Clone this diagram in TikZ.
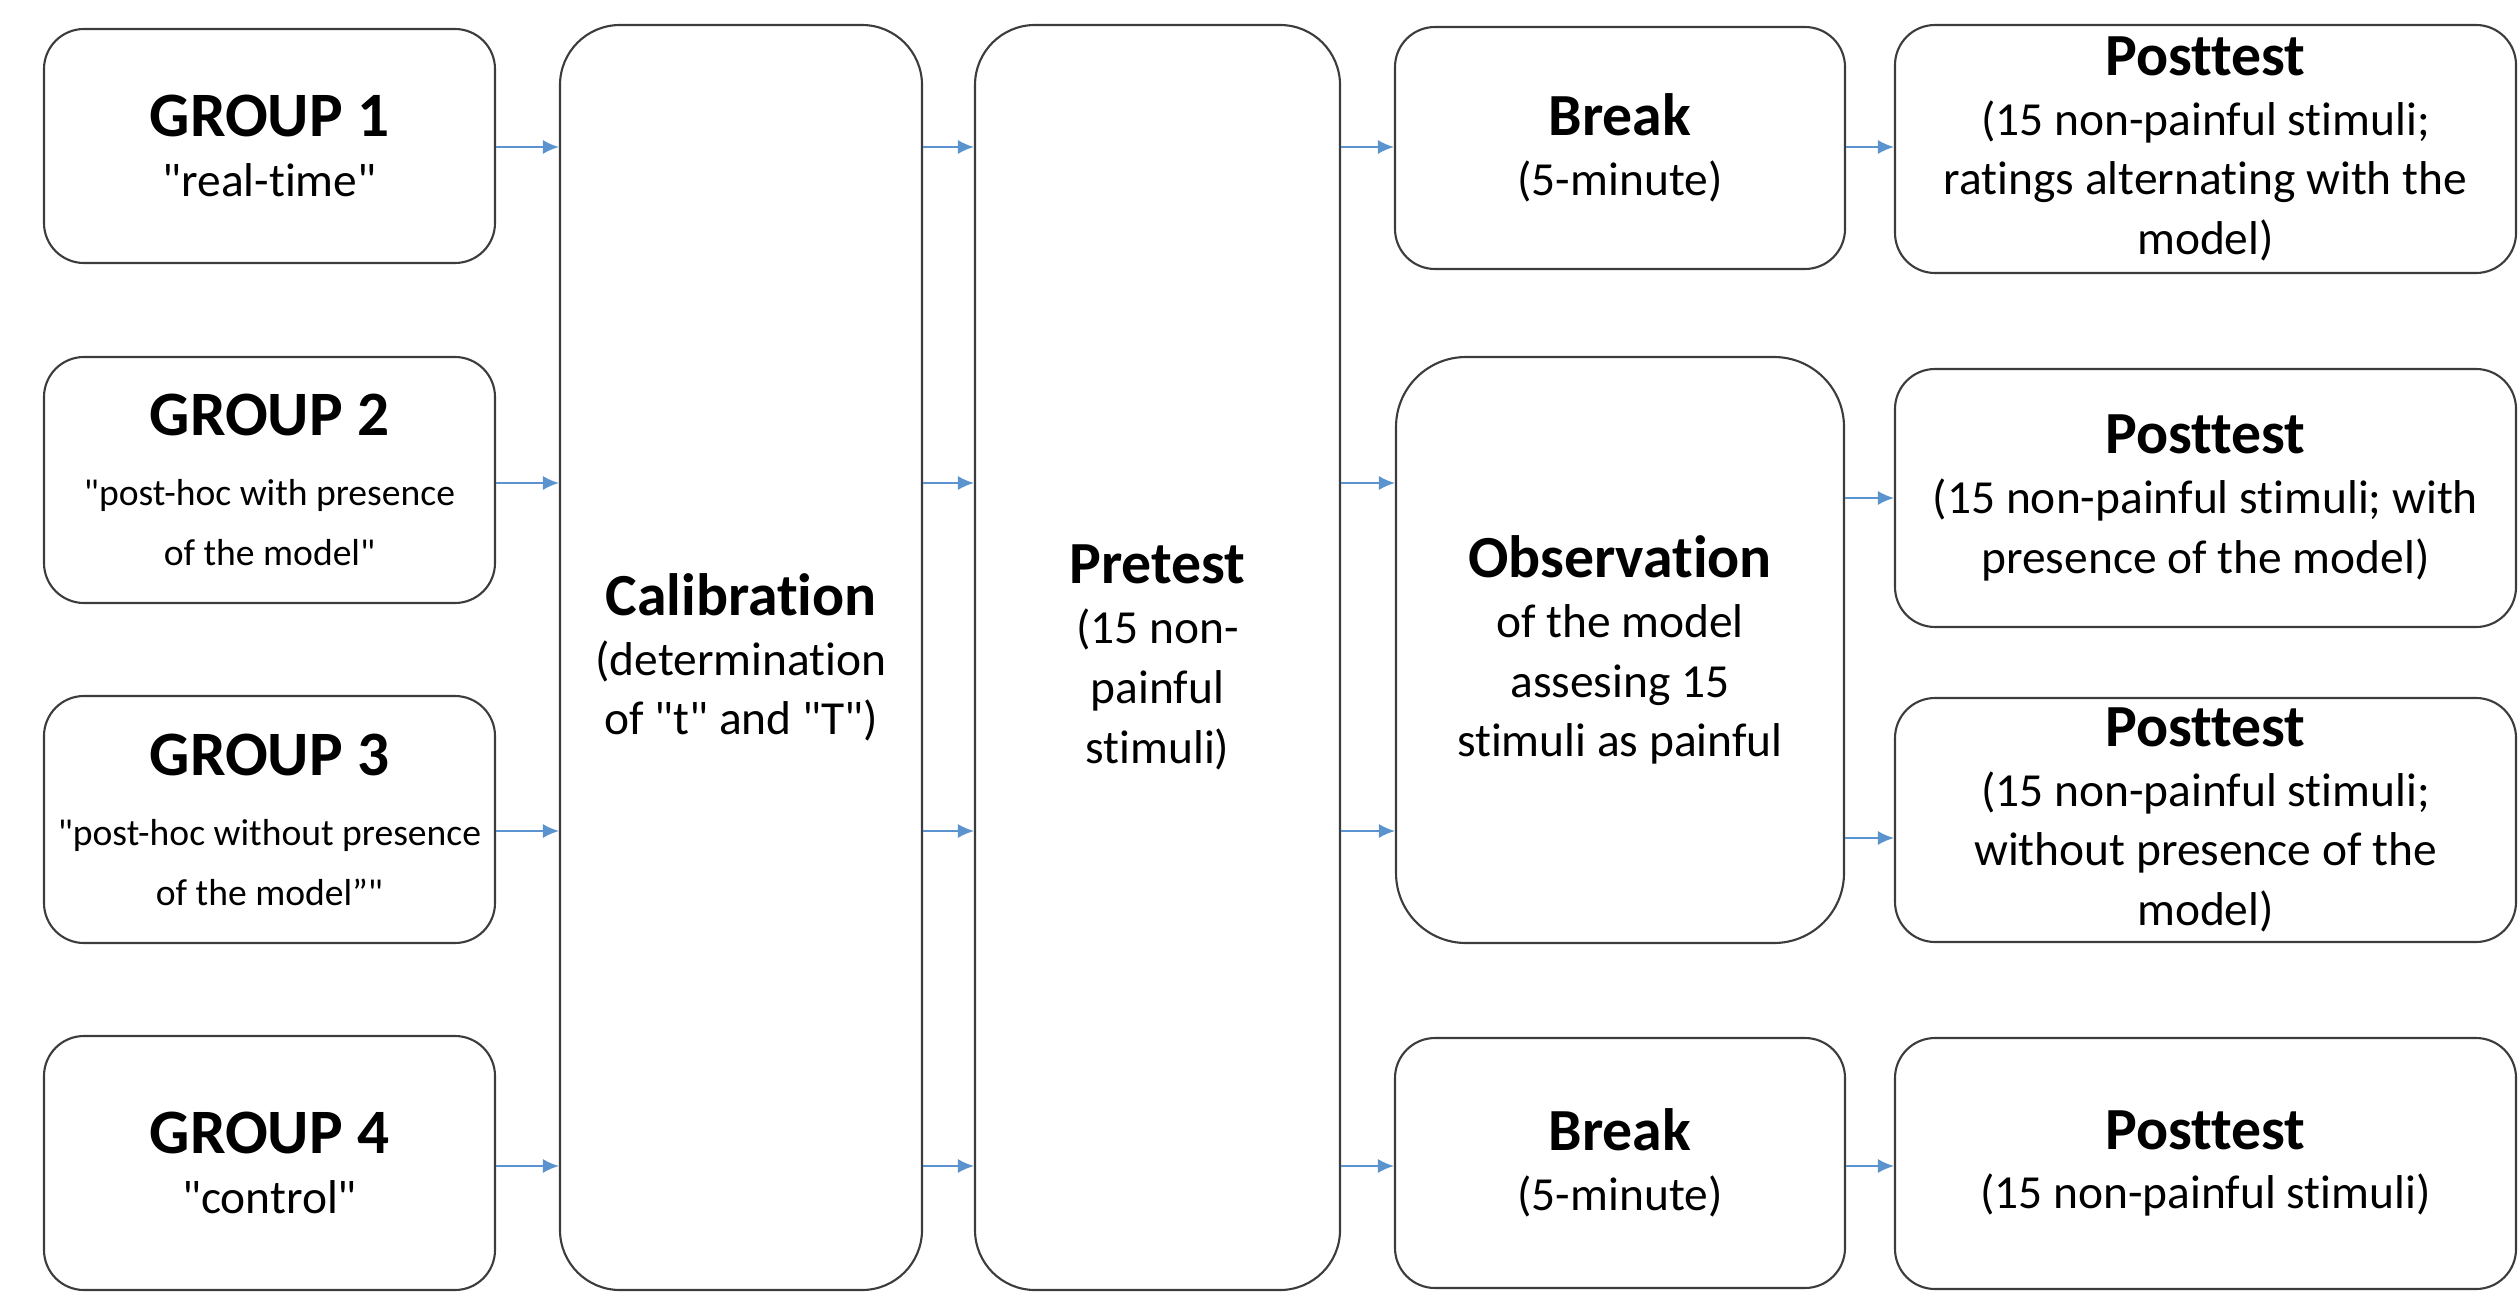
\documentclass[tikz,border=0pt]{standalone}
\usepackage{fontspec}
\setmainfont{Carlito}[Ligatures={TeXOff,NoCommon}]
\usepackage{tikz}
\usepackage{xcolor}
\usetikzlibrary{shapes,arrows.meta,calc}

\definecolor{boxgray}{HTML}{3C3C3C}
\definecolor{arrowblue}{HTML}{5B93CF}

\newcommand{\hdfont}{\fontsize{17}{20}\selectfont\bfseries}
\newcommand{\grfont}{\fontsize{18}{21}\selectfont\bfseries}
\newcommand{\bdfont}{\fontsize{13.5}{17}\selectfont}
\newcommand{\smfont}{\fontsize{10.7}{12.7}\selectfont}

\begin{document}
\begin{tikzpicture}[node distance=3.4cm,
    box/.style={draw=boxgray, line width=0.6pt, rounded corners=0.4cm, align=center, inner sep=2pt, font=\bdfont},
    arr/.style={-{Latex[length=1.6mm,width=1.4mm]}, draw=arrowblue, line width=0.5pt}]
    \useasboundingbox (0,0) rectangle (25.2,12.95);

    % groups
    \node (g1) [box, minimum width=4.51cm, minimum height=2.34cm] at (2.695,11.49) {{\grfont GROUP 1}\\ "real-time"};
    \node (g2) [box, below of=g1, node distance=3.34cm, minimum width=4.51cm, minimum height=2.46cm] {{\grfont GROUP 2}\\[3pt] \smfont "post-hoc with presence\\ \smfont of the model"};
    \node (g3) [box, below of=g2, node distance=3.395cm, minimum width=4.51cm, minimum height=2.47cm] {{\grfont GROUP 3}\\[3pt] \smfont "post-hoc without presence\\ \smfont of the model”"};
    \node (g4) [box, below of=g3, node distance=3.435cm, minimum width=4.51cm, minimum height=2.54cm] {{\grfont GROUP 4}\\ "control"};

    % common stages
    \node (cal) [box, rounded corners=0.6cm, minimum width=3.62cm, minimum height=12.65cm] at (7.41,6.375) {{\hdfont Calibration}\\ (determination\\ of "t" and "T")};
    \node (pre) [box, rounded corners=0.6cm, minimum width=3.65cm, minimum height=12.65cm] at (11.575,6.375) {{\hdfont Pretest}\\ (15 non-\\ painful\\ stimuli)};

    % break / observation
    \node (brk1) [box, minimum width=4.5cm, minimum height=2.42cm] at (16.2,11.47) {{\hdfont Break}\\ (5-minute)};
    \node (obs) [box, rounded corners=0.7cm, minimum width=4.48cm, minimum height=5.86cm] at (16.2,6.45) {{\hdfont Observation}\\ of the model\\ assesing 15\\ stimuli as painful};
    \node (brk2) [box, minimum width=4.5cm, minimum height=2.5cm] at (16.2,1.32) {{\hdfont Break}\\ (5-minute)};

    % posttests
    \node (post1) [box, minimum width=6.21cm, minimum height=2.48cm] at (22.055,11.46) {{\hdfont Posttest}\\ (15 non-painful stimuli;\\ ratings alternating with the\\ model)};
    \node (post2) [box, below of=post1, node distance=3.49cm, minimum width=6.21cm, minimum height=2.58cm] {{\hdfont Posttest}\\ (15 non-painful stimuli; with\\ presence of the model)};
    \node (post3) [box, below of=post2, node distance=3.22cm, minimum width=6.21cm, minimum height=2.44cm] {{\hdfont Posttest}\\ (15 non-painful stimuli;\\ without presence of the\\ model)};
    \node (post4) [box, below of=post3, node distance=3.435cm, minimum width=6.21cm, minimum height=2.51cm] {{\hdfont Posttest}\\ (15 non-painful stimuli)};

    % arrow rows
    \coordinate (r1) at (0,11.48);
    \coordinate (r2) at (0,8.12);
    \coordinate (r3) at (0,4.64);
    \coordinate (r4) at (0,1.29);
    \coordinate (q3) at (0,4.57);

    \draw [arr] (g1.east |- r1) -- (cal.west |- r1);
    \draw [arr] (g2.east |- r2) -- (cal.west |- r2);
    \draw [arr] (g3.east |- r3) -- (cal.west |- r3);
    \draw [arr] (g4.east |- r4) -- (cal.west |- r4);
    \draw [arr] (cal.east |- r1) -- (pre.west |- r1);
    \draw [arr] (cal.east |- r2) -- (pre.west |- r2);
    \draw [arr] (cal.east |- r3) -- (pre.west |- r3);
    \draw [arr] (cal.east |- r4) -- (pre.west |- r4);
    \draw [arr] (pre.east |- r1) -- (brk1.west |- r1);
    \draw [arr] (pre.east |- r2) -- (obs.west |- r2);
    \draw [arr] (pre.east |- r3) -- (obs.west |- r3);
    \draw [arr] (pre.east |- r4) -- (brk2.west |- r4);
    \draw [arr] (brk1.east |- r1) -- (post1.west |- r1);
    \draw [arr] (obs.east |- post2) -- (post2.west);
    \draw [arr] (obs.east |- q3) -- (post3.west |- q3);
    \draw [arr] (brk2.east |- r4) -- (post4.west |- r4);
\end{tikzpicture}
\end{document}
